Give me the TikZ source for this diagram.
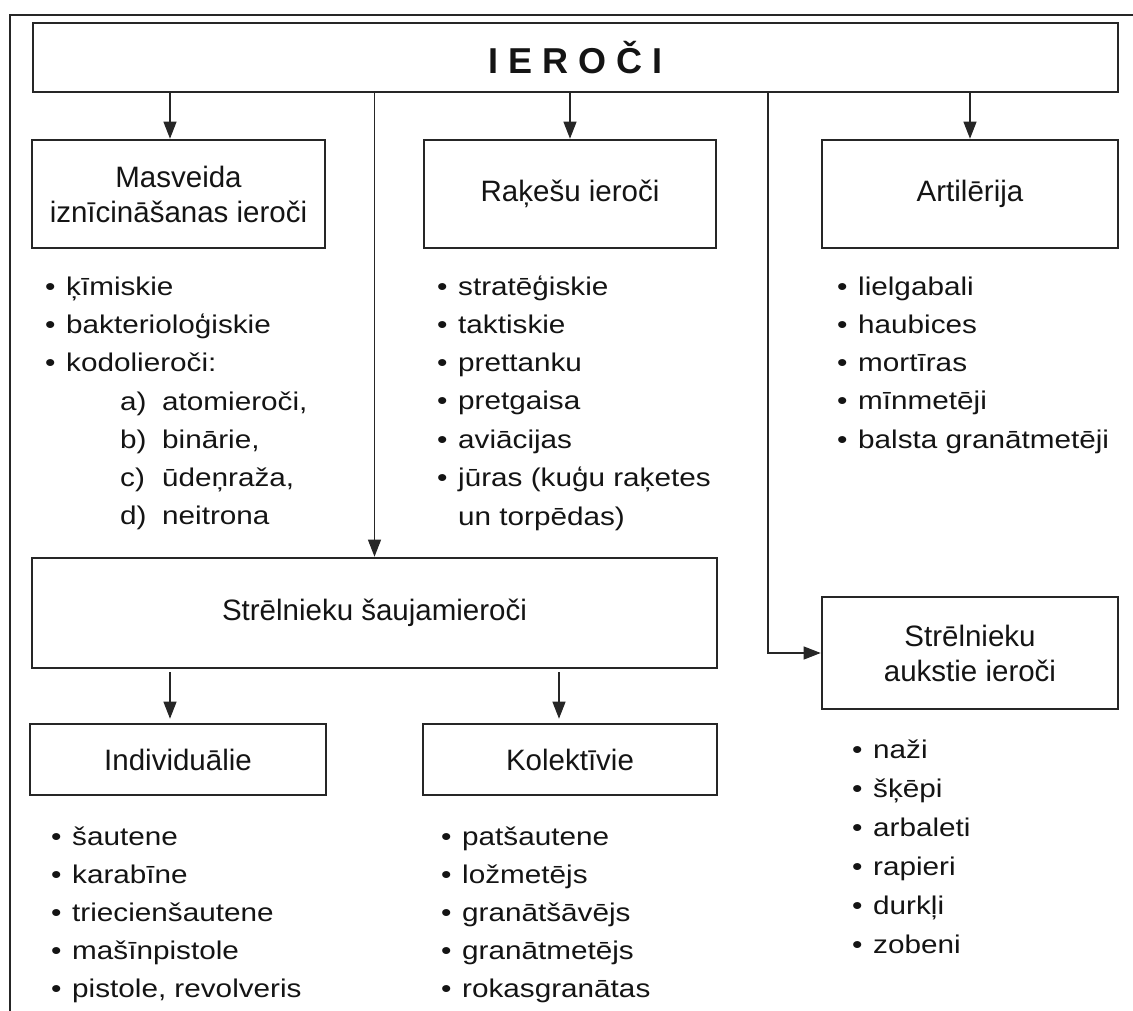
\documentclass[tikz,border=0pt]{standalone}
\usepackage{fontspec}
\setmainfont{Liberation Sans}
\newfontfamily\listfamily{Liberation Sans}[FakeStretch=1.16]
\usetikzlibrary{arrows.meta}
\newcommand{\bul}{\makebox[21pt][l]{•}}
\begin{document}
\begin{tikzpicture}[x=1pt,y=-1pt,
  box/.style={draw=black!85, line width=2.6pt, inner sep=0pt, align=center,
    text=black!92, font=\fontsize{29.5}{35}\selectfont},
  li/.style={anchor=base west, inner sep=0pt, text=black!92,
    font=\fontsize{25.6}{38}\listfamily},
  arr/.style={draw=black!85, line width=1.1pt, -{Triangle[length=17pt,width=13pt]}}]
\useasboundingbox (0,0) rectangle (1133,1011);
% frame
\draw[line width=2pt, black!85] (1133,15) -- (10,15) -- (10,1011);
% boxes
\node[box, minimum width=1085pt, minimum height=69pt, font=\fontsize{36}{40}\selectfont\bfseries]
  (top) at (575.5,57.5) {I E R O Č I};
\node[box, minimum width=293pt, minimum height=108pt] (mas) at (178.5,194) {Masveida\\iznīcināšanas ieroči};
\node[box, minimum width=292pt, minimum height=108pt] (rak) at (570,194) {Raķešu ieroči};
\node[box, minimum width=296pt, minimum height=108pt] (art) at (970,194) {Artilērija};
\node[box, minimum width=685pt, minimum height=110pt] (sau) at (374.5,613) {Strēlnieku šaujamieroči};
\node[box, minimum width=296pt, minimum height=112pt] (auk) at (970,653) {Strēlnieku\\aukstie ieroči};
\node[box, minimum width=296pt, minimum height=71pt] (ind) at (178,759.5) {Individuālie};
\node[box, minimum width=294pt, minimum height=71pt] (kol) at (570,759.5) {Kolektīvie};
% connector helper coordinates
\coordinate (xa) at (170,0);
\coordinate (xb) at (768,0);
\coordinate (xc) at (559,0);
% connectors
\draw[arr] (top.south -| xa) -- (mas.north -| xa);
\draw[arr] (top.south -| rak.north) -- (rak.north);
\draw[arr] (top.south -| art.north) -- (art.north);
\draw[arr] (top.south -| sau.north) -- (sau.north);
\draw[arr] (top.south -| xb) |- (auk.west);
\draw[arr, shorten <=3pt, shorten >=4pt] (sau.south -| xa) -- (ind.north -| xa);
\draw[arr, shorten <=3pt, shorten >=4pt] (sau.south -| xc) -- (kol.north -| xc);
% lists
\foreach \t [count=\i from 0] in {ķīmiskie, bakterioloģiskie, kodolieroči:}
  \node[li] (mas-\i) at (45,295+38.3*\i) {\bul\t};
\foreach \t/\s [count=\i from 0] in {a)/{atomieroči,}, b)/{binārie,}, c)/{ūdeņraža,}, d)/neitrona}
  \node[li] (mass-\i) at (120,410+38.3*\i) {\makebox[42pt][l]{\t}\s};
\foreach \t [count=\i from 0] in {stratēģiskie, taktiskie, prettanku, pretgaisa, aviācijas, jūras (kuģu raķetes}
  \node[li] (rak-\i) at (437,295+38.3*\i) {\bul\t};
\node[li] (rak-cont) at (458,525) {un torpēdas)};
\foreach \t [count=\i from 0] in {lielgabali, haubices, mortīras, mīnmetēji, balsta granātmetēji}
  \node[li] (art-\i) at (837,295+38.3*\i) {\bul\t};
\foreach \t [count=\i from 0] in {šautene, karabīne, triecienšautene, mašīnpistole, {pistole, revolveris}}
  \node[li] (ind-\i) at (51,845+38*\i) {\bul\t};
\foreach \t [count=\i from 0] in {patšautene, ložmetējs, granātšāvējs, granātmetējs, rokasgranātas}
  \node[li] (kol-\i) at (441,845+38*\i) {\bul\t};
\foreach \t [count=\i from 0] in {naži, šķēpi, arbaleti, rapieri, durkļi, zobeni}
  \node[li] (auk-\i) at (852,758+39*\i) {\bul\t};
\end{tikzpicture}
\end{document}
